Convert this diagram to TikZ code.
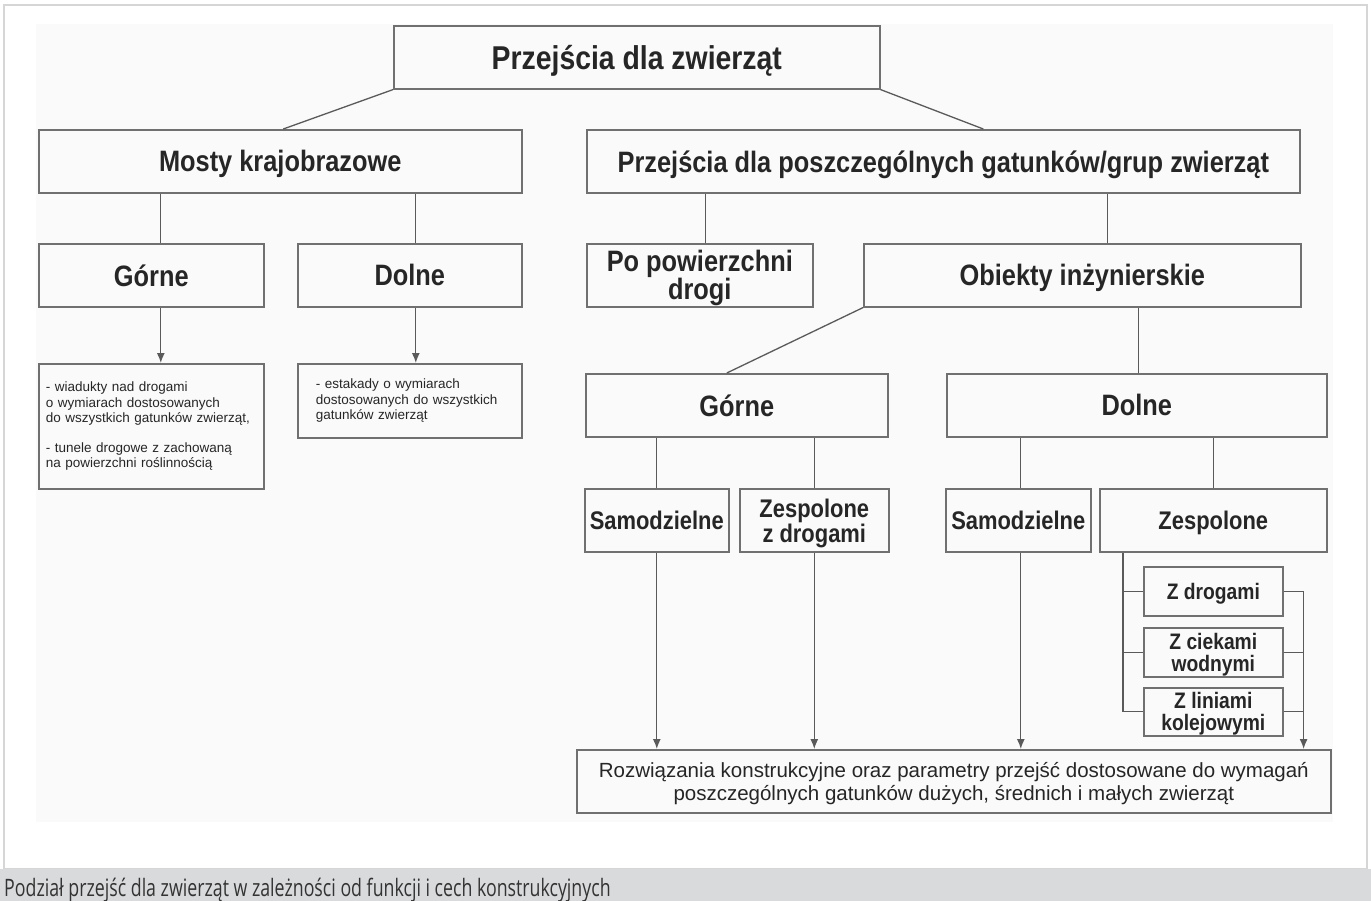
\documentclass[tikz,border=0pt]{standalone}
\usepackage{fontspec}
\setmainfont{Liberation Sans}
\newfontfamily\naglowek[FakeStretch=0.86]{Liberation Sans}
\newfontfamily\podpisfont[FakeStretch=0.74]{Open Sans}
\usetikzlibrary{arrows.meta}
\definecolor{ramka}{HTML}{D6D6D6}
\definecolor{tlo}{HTML}{FAFAFA}
\definecolor{pasek}{HTML}{D9DADC}
\definecolor{obrys}{HTML}{707070}
\definecolor{lacznik}{HTML}{5A5A5A}
\definecolor{tekst}{HTML}{262626}

\begin{document}
\begin{tikzpicture}[x=1pt,y=-1pt,
				      every node/.style={text=tekst},
				      blok/.style={draw=obrys, line width=1.6pt, inner sep=0pt,
						      anchor=north west, align=center},
				      tytul/.style={blok, text depth=0pt, font=\naglowek\bfseries\fontsize{33}{34}\selectfont},
				      glowny/.style={blok, minimum height=63pt, text depth=0pt,
						      font=\naglowek\bfseries\fontsize{29.5}{28}\selectfont},
				      sredni/.style={blok, minimum height=63pt, text depth=0pt,
						      font=\naglowek\bfseries\fontsize{25.5}{25}\selectfont},
				      maly/.style={blok, minimum width=139pt, text depth=0pt,
						      font=\naglowek\bfseries\fontsize{22.4}{22}\selectfont},
				      opis/.style={blok, align=left, inner xsep=7pt,
						      font=\fontsize{13.5}{15.5}\selectfont},
				      linia/.style={draw=lacznik, line width=1.3pt},
				      strzalka/.style={linia, -{Latex[length=10pt,width=8pt]}}
			      ]

			      \useasboundingbox (0,0) rectangle (1371,901);
			      \fill[white] (0,0) rectangle (1371,901);
			      \fill[tlo] (36,24) rectangle (1333,822);
			      \draw[ramka, line width=2pt] (4,5) rectangle (1367,869);
			      \fill[pasek] (0,869) rectangle (1371,901);

			      \node[tytul, minimum width=486pt, minimum height=63pt] (przejscia) at (393,25) {Przejścia dla zwierząt};
			      \node[glowny, minimum width=483pt] (mosty) at (38,129) {Mosty krajobrazowe};
			      \node[glowny, minimum width=713pt] (gatunki) at (586,129) {Przejścia dla poszczególnych gatunków/grup zwierząt};
			      \node[glowny, minimum width=225pt] (gorneM) at (38,243) {Górne};
			      \node[glowny, minimum width=224pt] (dolneM) at (297,243) {Dolne};
			      \node[glowny, minimum width=226pt] (drogi) at (586,243) {Po powierzchni\\drogi};
			      \node[glowny, minimum width=437pt] (obiekty) at (863,243) {Obiekty inżynierskie};

			      \node[opis, text width=211pt, minimum height=125pt] (opisG) at (38,363)
			      {- wiadukty nad drogami\\o wymiarach dostosowanych\\do wszystkich gatunków zwierząt,\\[14pt]
				      - tunele drogowe z zachowaną\\na powierzchni roślinnością};
			      \node[opis, inner xsep=18pt, text width=188pt, minimum height=74pt] (opisD) at (297,363)
			      {- estakady o wymiarach\\dostosowanych do wszystkich\\gatunków zwierząt};

			      \node[glowny, minimum width=302pt] (gorneO) at (585,373) {Górne};
			      \node[glowny, minimum width=380pt] (dolneO) at (946,373) {Dolne};
			      \node[sredni, minimum width=144pt] (samG) at (584,488) {Samodzielne};
			      \node[sredni, minimum width=149pt] (zespG) at (739,488) {Zespolone\\z drogami};
			      \node[sredni, minimum width=145pt] (samD) at (945,488) {Samodzielne};
			      \node[sredni, minimum width=227pt] (zespD) at (1099,488) {Zespolone};
			      \node[maly, minimum height=49pt] (zd1) at (1143,566) {Z drogami};
			      \node[maly, minimum height=49pt] (zd2) at (1143,627) {Z ciekami\\wodnymi};
			      \node[maly, minimum height=48pt] (zd3) at (1143,687) {Z liniami\\kolejowymi};
			      \node[blok, minimum width=754pt, minimum height=63pt, text depth=0pt, font=\fontsize{20.5}{23}\selectfont] (rozw) at (576,749)
			      {Rozwiązania konstrukcyjne oraz parametry przejść dostosowane do wymagań\\poszczególnych gatunków dużych, średnich i małych zwierząt};

			      \node[anchor=base west, text=black!80, font=\podpisfont\fontsize{24}{26}\selectfont, inner sep=0pt] (podpis) at (4,896)
			      {Podział przejść dla zwierząt w zależności od funkcji i cech konstrukcyjnych};

			      \draw[linia] (przejscia.south west) -- ([xshift=3pt]mosty.north);
			      \draw[linia] (przejscia.south east) -- ([xshift=40pt]gatunki.north);
			      \draw[linia] ([xshift=9.5pt]gorneM.north) -- ([xshift=9.5pt]gorneM.north |- mosty.south);
			      \draw[linia] ([xshift=6pt]dolneM.north) -- ([xshift=6pt]dolneM.north |- mosty.south);
			      \draw[strzalka] ([xshift=9.5pt]gorneM.south) -- ([xshift=9.5pt]gorneM.south |- opisG.north);
			      \draw[strzalka] ([xshift=6pt]dolneM.south) -- ([xshift=6pt]dolneM.south |- opisD.north);
			      \draw[linia] ([xshift=6pt]drogi.north) -- ([xshift=6pt]drogi.north |- gatunki.south);
			      \draw[linia] ([xshift=25.5pt]obiekty.north) -- ([xshift=25.5pt]obiekty.north |- gatunki.south);
			      \draw[linia] (obiekty.south west) -- ([xshift=-10pt]gorneO.north);
			      \draw[linia] ([xshift=2pt]dolneO.north) -- ([xshift=2pt]dolneO.north |- obiekty.south);
			      \draw[linia] (samG.north) -- (samG.north |- gorneO.south);
			      \draw[linia] (zespG.north) -- (zespG.north |- gorneO.south);
			      \draw[linia] ([xshift=2.5pt]samD.north) -- ([xshift=2.5pt]samD.north |- dolneO.south);
			      \draw[linia] (zespD.north) -- (zespD.north |- dolneO.south);
			      \draw[strzalka] (samG.south) -- (samG.south |- rozw.north);
			      \draw[strzalka] (zespG.south) -- (zespG.south |- rozw.north);
			      \draw[strzalka] ([xshift=2.5pt]samD.south) -- ([xshift=2.5pt]samD.south |- rozw.north);

			      \coordinate (lewy) at ([xshift=24pt]zespD.south west);
			      \coordinate (prawy) at ([xshift=-28pt]rozw.north east);
			      \draw[linia] (lewy) |- (zd3.west);
			      \draw[linia] (lewy |- zd1.west) -- (zd1.west);
			      \draw[linia] (lewy |- zd2.west) -- (zd2.west);
			      \draw[strzalka] (zd1.east) -| (prawy);
			      \draw[linia] (zd2.east) -- (zd2.east -| prawy);
			      \draw[linia] (zd3.east) -- (zd3.east -| prawy);
		      \end{tikzpicture}
\end{document}
